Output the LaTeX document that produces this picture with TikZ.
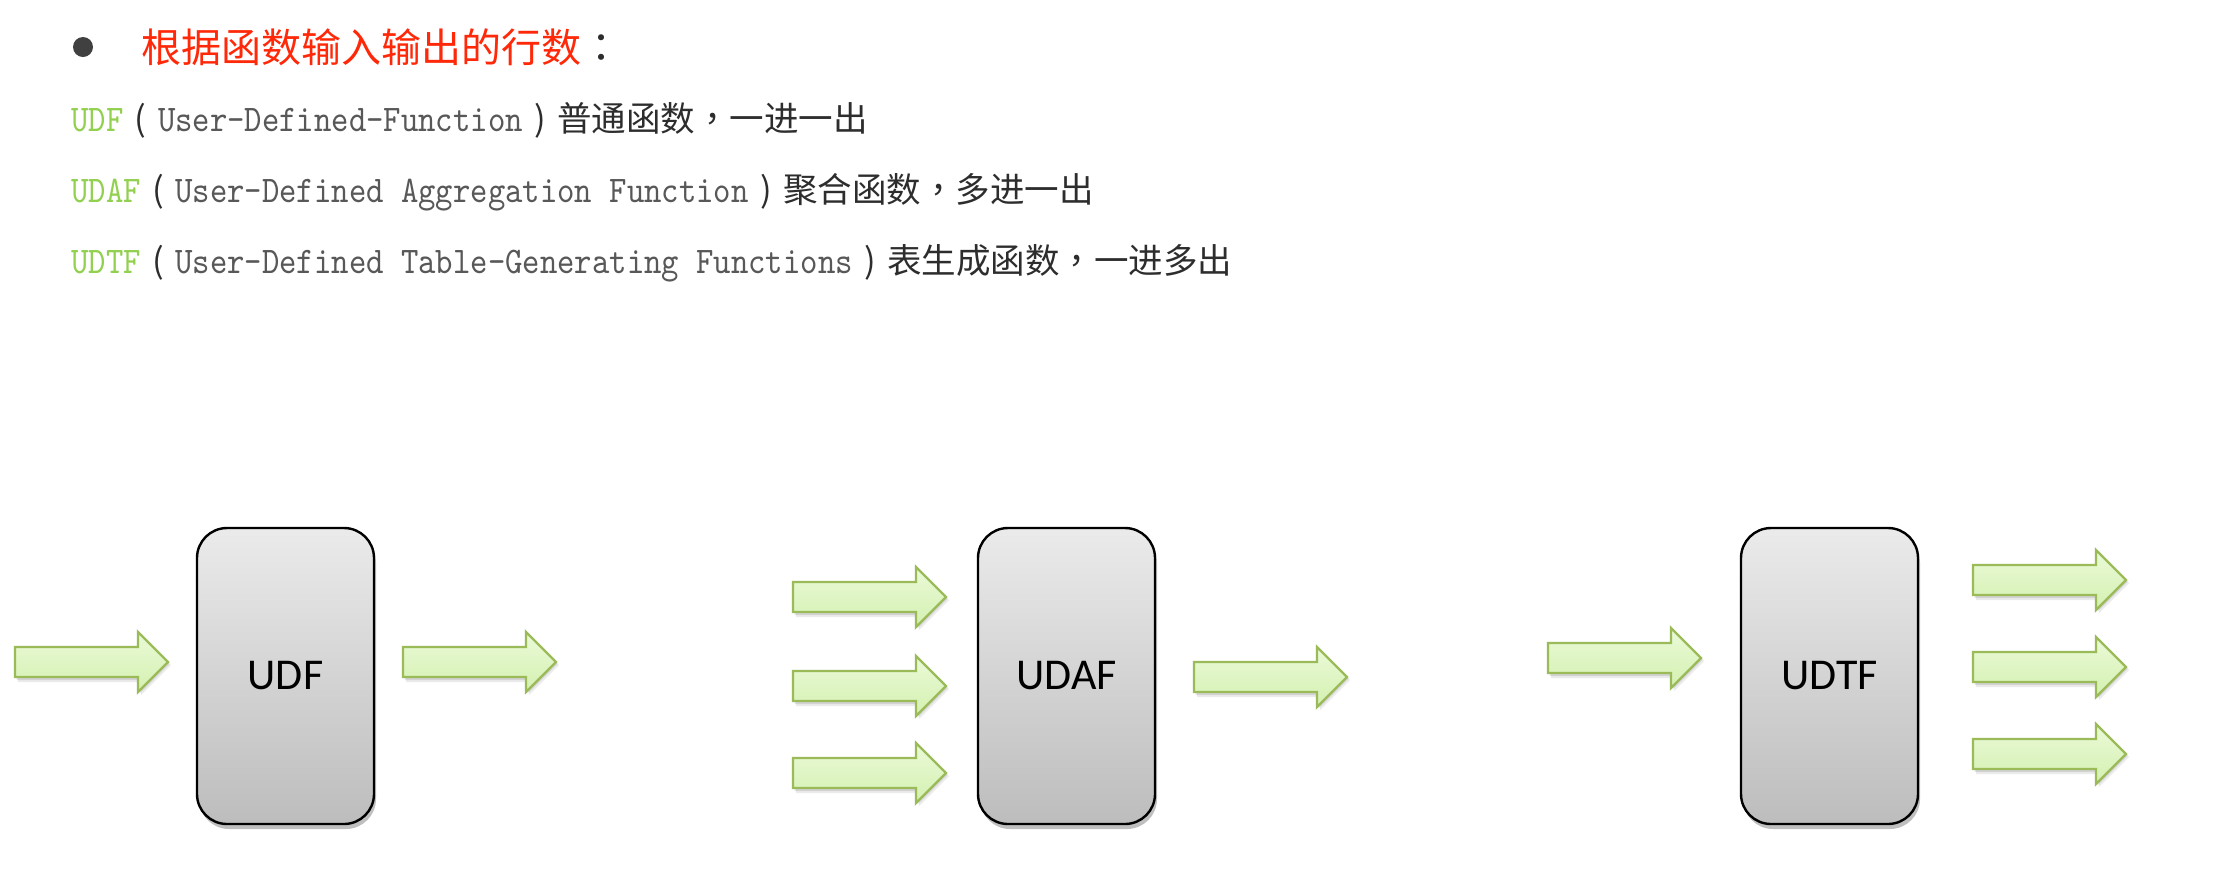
\documentclass[tikz,border=0pt]{standalone}
\usepackage{fontspec}
\newfontfamily\cjkfam{Noto Sans CJK SC}
\newfontfamily\cjkpunctfam{Noto Sans CJK TC}
\newfontfamily\lmonofam[FakeStretch=0.88]{lmmono10-regular.otf}
\newfontfamily\boxfam{Carlito}
\usetikzlibrary{shadows}
\definecolor{headred}{RGB}{255,40,8}
\definecolor{udfgreen}{RGB}{146,208,80}
\definecolor{monogray}{RGB}{88,88,88}
\definecolor{cjkdark}{RGB}{45,45,45}
\definecolor{bulletgray}{RGB}{64,64,64}
\definecolor{arrowborder}{RGB}{155,187,89}
\definecolor{arrowtop}{RGB}{234,250,216}
\definecolor{arrowbot}{RGB}{212,240,176}
\newcommand{\monotxt}[1]{{\lmonofam\fontsize{18.8pt}{22pt}\selectfont #1}}
\newcommand{\cjktxt}[1]{{\cjkfam\fontsize{17.25pt}{22pt}\selectfont #1}}
\newcommand{\pnct}[1]{{\cjkpunctfam\fontsize{17.25pt}{22pt}\selectfont #1}}
\newcommand{\wparen}[1]{{\cjkfam\fontsize{17.25pt}{22pt}\selectfont\makebox[17.25pt][c]{#1}}}
\tikzset{
  fnbox/.style={draw=black, line width=1.2pt, rounded corners=15pt,
    top color=black!8, bottom color=black!26,
    minimum width=88.5pt, minimum height=148pt, inner sep=0pt,
    font=\boxfam\fontsize{22pt}{26pt}\selectfont,
    drop shadow={shadow xshift=1pt, shadow yshift=-2.5pt, opacity=0.25, fill=black}},
  lineTxt/.style={anchor=base west, inner sep=0pt, text=cjkdark},
  garrow/.pic={
    \fill[black,opacity=0.08] (3,-12) -- (126,-12) -- (126,-27) -- (156,3) -- (126,33) -- (126,20) -- (3,20) -- cycle;
    \fill[black,opacity=0.10] (1.5,-13.5) -- (124.5,-13.5) -- (124.5,-28.5) -- (154.5,1.5) -- (124.5,31.5) -- (124.5,18) -- (1.5,18) -- cycle;
    \path[draw=arrowborder, line width=1.1pt, line join=miter, top color=arrowtop, bottom color=arrowbot]
      (0,-15) -- (123,-15) -- (123,-30) -- (153,0) -- (123,30) -- (123,15) -- (0,15) -- cycle;
  }
}
\begin{document}
\begin{tikzpicture}[x=0.5pt, y=-0.5pt]
\useasboundingbox (0,0) rectangle (2222,874);
\fill[white] (0,0) rectangle (2222,874);

% heading
\node[circle, fill=bulletgray, inner sep=0pt, minimum size=10pt] (bullet) at (83,47) {};
\node[anchor=base west, inner sep=0pt] (head) at (141,62)
  {{\cjkfam\fontsize{20pt}{24pt}\selectfont\color{headred}根据函数输入输出的行数}{\cjkpunctfam\fontsize{20pt}{24pt}\selectfont\color{cjkdark}：}};

% lines
\node[lineTxt] (l1) at (71,131)
  {\monotxt{\color{udfgreen}UDF}\wparen{(}\monotxt{\color{monogray}User-Defined-Function}\wparen{)}\cjktxt{普通函数}\pnct{，}\cjktxt{一进一出}};
\node[lineTxt] (l2) at (71,202)
  {\monotxt{\color{udfgreen}UDAF}\wparen{(}\monotxt{\color{monogray}User-Defined Aggregation Function}\wparen{)}\cjktxt{聚合函数}\pnct{，}\cjktxt{多进一出}};
\node[lineTxt] (l3) at (71,273)
  {\monotxt{\color{udfgreen}UDTF}\wparen{(}\monotxt{\color{monogray}User-Defined Table-Generating Functions}\wparen{)}\cjktxt{表生成函数}\pnct{，}\cjktxt{一进多出}};

% boxes
\node[fnbox] (udf)  at (285.5,676) {UDF};
\node[fnbox] (udaf) at (1066.5,676) {UDAF};
\node[fnbox] (udtf) at (1829.5,676) {UDTF};

% arrows UDF
\pic (udfin)  at (15,662)  {garrow};
\pic (udfout) at (403,662) {garrow};
% arrows UDAF
\pic (udafinA) at (793,597) {garrow};
\pic (udafinB) at (793,686) {garrow};
\pic (udafinC) at (793,773) {garrow};
\pic (udafout) at (1194,677) {garrow};
% arrows UDTF
\pic (udtfin)   at (1548,658) {garrow};
\pic (udtfoutA) at (1973,580) {garrow};
\pic (udtfoutB) at (1973,667) {garrow};
\pic (udtfoutC) at (1973,754) {garrow};
\end{tikzpicture}
\end{document}
